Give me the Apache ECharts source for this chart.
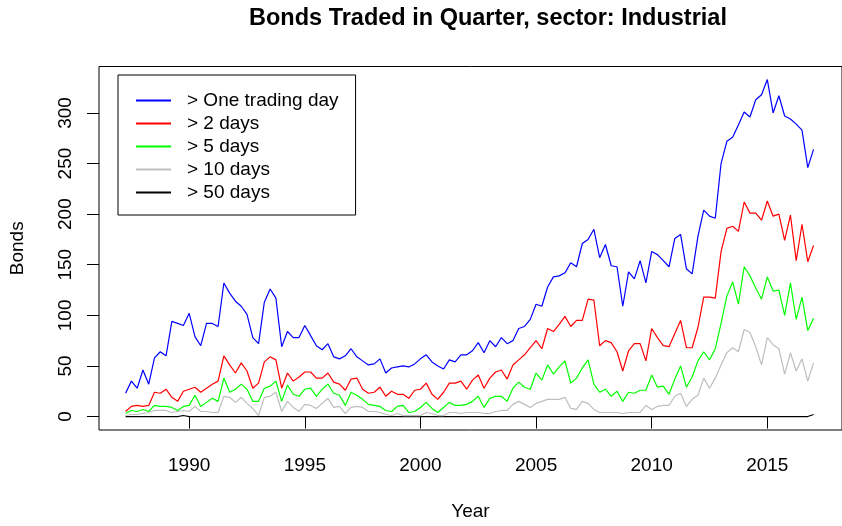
<!DOCTYPE html>
<html>
<head>
<meta charset="utf-8">
<title>Bonds Traded in Quarter, sector: Industrial</title>
<script src="https://cdn.jsdelivr.net/npm/echarts@6/dist/echarts.min.js"></script>
<style>
  html, body { margin: 0; padding: 0; background: #fff; }
  #chart { width: 842px; height: 526px; }
</style>
</head>
<body>
<div id="chart"></div>
<script>
// quarterly observations, first one is 1987 Q2
const startYear = 1987.25;

const oneDay = [23, 35, 28, 46, 32, 58, 64, 60, 94, 92, 90, 102, 79, 70, 92, 92, 89, 132, 122, 114,
  109, 101, 78, 72, 113, 126, 117, 69, 84, 78, 78, 90, 80, 70, 66, 72, 59, 57, 60, 67,
  59, 55, 51, 52, 57, 43, 48, 49, 50, 49, 52, 57, 61, 54, 50, 47, 56, 54, 61, 61,
  65, 73, 63, 75, 69, 78, 72, 75, 87, 89, 96, 111, 109, 128, 138, 139, 142, 152, 148, 171,
  175, 185, 157, 170, 149, 148, 109, 143, 136, 154, 132, 163, 160, 154, 148, 176, 180, 146, 141, 178,
  204, 198, 196, 250, 272, 276, 288, 301, 296, 313, 318, 333, 300, 317, 297, 294, 289, 283, 246, 264];

const twoDays = [5, 10, 11, 10, 11, 24, 23, 27, 19, 15, 25, 27, 29, 24, 28, 32, 35, 60, 51, 43,
  53, 45, 28, 33, 54, 59, 56, 28, 43, 35, 39, 44, 44, 38, 38, 43, 34, 32, 26, 37,
  38, 27, 23, 24, 29, 20, 25, 22, 22, 18, 26, 27, 33, 22, 17, 24, 33, 33, 35, 27,
  36, 41, 28, 38, 44, 46, 37, 51, 56, 61, 68, 75, 67, 87, 84, 91, 99, 89, 95, 95,
  116, 115, 70, 75, 73, 64, 45, 65, 72, 72, 55, 87, 78, 70, 69, 82, 95, 68, 68, 88,
  118, 118, 117, 163, 186, 188, 183, 212, 201, 201, 194, 213, 198, 200, 174, 199, 154, 190, 153, 169];

const fiveDays = [3, 6, 5, 7, 5, 11, 10, 10, 9, 6, 10, 11, 21, 10, 14, 18, 15, 38, 24, 27,
  32, 27, 15, 15, 28, 30, 35, 15, 31, 22, 20, 27, 28, 20, 27, 32, 23, 21, 11, 24,
  21, 17, 12, 11, 10, 6, 5, 10, 11, 4, 5, 9, 14, 8, 4, 9, 14, 11, 11, 12,
  15, 20, 9, 18, 20, 20, 15, 28, 34, 29, 27, 43, 36, 51, 42, 49, 55, 33, 38, 48,
  56, 32, 24, 27, 20, 25, 15, 24, 23, 26, 26, 41, 29, 30, 22, 37, 50, 29, 39, 55,
  64, 56, 67, 92, 119, 133, 111, 148, 139, 127, 116, 138, 124, 125, 100, 132, 96, 118, 85, 97];

const tenDays = [1, 2, 2, 3, 4, 6, 6, 6, 4, 5, 6, 5, 10, 5, 5, 4, 4, 20, 19, 14,
  19, 13, 8, 1, 19, 20, 24, 5, 15, 9, 5, 12, 11, 8, 13, 18, 9, 10, 3, 9,
  10, 9, 5, 5, 4, 2, 1, 3, 1, 1, 1, 1, 4, 3, 1, 1, 4, 4, 3, 4,
  4, 4, 3, 3, 5, 6, 6, 12, 15, 12, 9, 13, 15, 17, 17, 17, 19, 8, 7, 15,
  13, 7, 4, 4, 4, 4, 3, 4, 4, 4, 11, 7, 10, 11, 11, 20, 23, 10, 17, 21,
  38, 28, 38, 51, 63, 68, 64, 86, 83, 69, 51, 78, 71, 67, 42, 63, 45, 57, 35, 53];

const fiftyDays = [0, 0, 0, 0, 0, 0, 0, 0, 0, 0, 1, 0, 0, 0, 0, 0, 0, 0, 0, 0,
  0, 0, 0, 0, 0, 0, 0, 0, 0, 0, 0, 0, 0, 0, 0, 0, 0, 0, 0, 0,
  0, 0, 0, 0, 0, 0, 0, 0, 0, 0, 0, 0, 0, 0, 0, 0, 0, 0, 0, 0,
  0, 0, 0, 0, 0, 0, 0, 0, 0, 0, 0, 0, 0, 0, 0, 0, 0, 0, 0, 0,
  0, 0, 0, 0, 0, 0, 0, 0, 0, 0, 0, 0, 0, 0, 0, 0, 0, 0, 0, 0,
  0, 0, 0, 0, 0, 0, 0, 0, 0, 0, 0, 0, 0, 0, 0, 0, 0, 0, 0, 2];

const seriesNames = ['> One trading day', '> 2 days', '> 5 days', '> 10 days', '> 50 days'];
const seriesColors = ['#0000ff', '#ff0000', '#00ff00', '#bebebe', '#000000'];
const yearTicks = [1990, 1995, 2000, 2005, 2010, 2015];
const bondTicks = [0, 50, 100, 150, 200, 250, 300];

const FONT = 'Liberation Sans, Arial, Helvetica, sans-serif';

function withTime(values) {
  return values.map((v, i) => [startYear + i * 0.25, v]);
}

const chart = echarts.init(document.getElementById('chart'));

const allValues = [oneDay, twoDays, fiveDays, tenDays, fiftyDays];

const option = {
  animation: false,
  backgroundColor: '#ffffff',
  textStyle: { fontFamily: FONT },
  graphic: [{
    type: 'text',
    x: 488,
    y: 19,
    style: {
      text: 'Bonds Traded in Quarter, sector: Industrial',
      font: 'bold 23.5px ' + FONT,
      fill: '#000',
      textAlign: 'center',
      textVerticalAlign: 'middle'
    }
  }],
  legend: {
    orient: 'vertical',
    left: 118,
    top: 75,
    padding: [16, 17, 13, 17],
    borderColor: '#000',
    borderWidth: 1,
    itemWidth: 35,
    itemHeight: 10,
    itemGap: 4,
    data: seriesNames,
    // hide the dot ECharts puts on line legend icons, keep the line
    itemStyle: { opacity: 0 },
    textStyle: {
      fontSize: 19,
      fontFamily: FONT,
      color: '#000',
      padding: [0, 0, 0, 11]
    }
  },
  grid: {
    left: 99,
    top: 66.5,
    width: 753,
    height: 363.5,
    show: true,
    borderColor: '#000',
    borderWidth: 1,
    backgroundColor: 'transparent'
  },
  xAxis: {
    type: 'value',
    min: 1986.1,
    max: 2018.23,
    name: 'Year',
    nameLocation: 'middle',
    nameGap: 72,
    nameTextStyle: { fontSize: 19, color: '#000', fontFamily: FONT },
    axisLine: { show: false },
    splitLine: { show: false },
    axisTick: {
      show: true,
      length: 12,
      customValues: yearTicks,
      lineStyle: { color: '#000', width: 1 }
    },
    axisLabel: {
      customValues: yearTicks,
      formatter: (v) => String(v),
      margin: 26,
      fontSize: 19,
      color: '#000',
      fontFamily: FONT
    }
  },
  yAxis: {
    type: 'value',
    min: -13.3,
    max: 345.9,
    name: 'Bonds',
    nameLocation: 'middle',
    nameGap: 72,
    nameTextStyle: { fontSize: 19, color: '#000', fontFamily: FONT },
    axisLine: { show: false },
    splitLine: { show: false },
    axisTick: {
      show: true,
      length: 12,
      customValues: bondTicks,
      lineStyle: { color: '#000', width: 1 }
    },
    axisLabel: {
      customValues: bondTicks,
      formatter: (v) => String(v),
      rotate: 90,
      margin: 24,
      fontSize: 19,
      color: '#000',
      fontFamily: FONT
    }
  },
  series: allValues.map((values, k) => ({
    name: seriesNames[k],
    type: 'line',
    data: withTime(values),
    symbol: 'none',
    color: seriesColors[k],
    lineStyle: { color: seriesColors[k], width: 1.2 },
    z: 10 - k
  }))
};

chart.setOption(option);
</script>
</body>
</html>
